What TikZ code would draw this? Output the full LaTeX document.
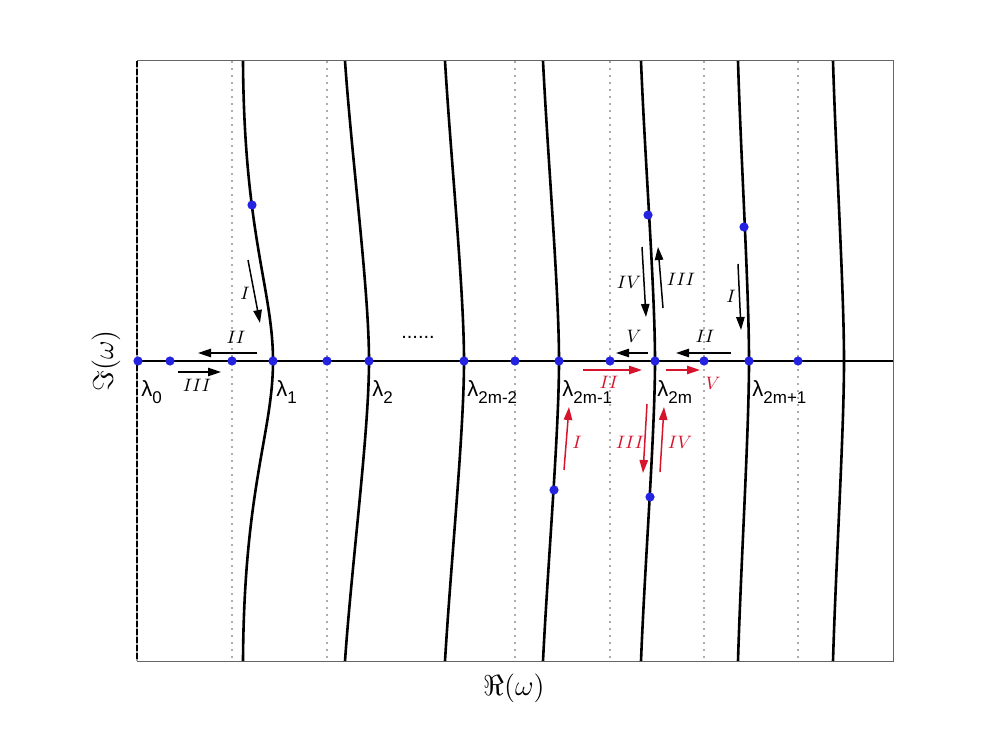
\documentclass[tikz,border=0pt]{standalone}
\usepackage{amsmath}
\usepackage{fontspec}
\newfontfamily\helv{Liberation Sans}
\usetikzlibrary{arrows.meta, positioning}
\definecolor{dotblue}{RGB}{35,35,225}
\definecolor{arred}{RGB}{215,20,45}
\newcommand{\lam}[1]{{\helv\fontsize{11}{13}\selectfont λ\raisebox{-3.5pt}{\fontsize{8.5}{10}\selectfont #1}}}

\begin{document}
\begin{tikzpicture}[x=0.5pt, y=-0.5pt,
    curve/.style={line width=1.3pt},
    dot/.style={circle, fill=dotblue, inner sep=0pt, minimum size=4.6pt},
    guide/.style={gray!65, line width=0.6pt, dash pattern=on 0.8pt off 2.7pt},
    arr/.style={-{Triangle[length=6.5pt,width=4.2pt]}, line width=0.75pt},
    num/.style={font=\fontsize{9}{11}\selectfont, inner sep=0pt},
    lab/.style={anchor=north west, inner sep=0pt}]
    \useasboundingbox (0,0) rectangle (996,749);

    \foreach \x in {232, 327, 515, 610, 704, 798}
        \draw[guide] (\x,61) -- (\x,661);
    \draw[gray!80!black, line width=0.5pt] (137,61) rectangle (893,661);
    \draw[gray!70, line width=1.3pt] (137,61) -- (137,661);
    \draw[line width=1.1pt, dash pattern=on 3pt off 1pt] (137,61) -- (137,661);

    \foreach \xt/\xm/\xc/\yc in {243/273/244/235, 345/369/352/161, 445/464/451/161,
        543/559/548/161, 641/655/645/161, 738/749/741/161, 833/844/836/161}
        \draw[curve] (\xt,61) .. controls (\xc,\yc) and (\xm,290) .. (\xm,361)
            .. controls (\xm,432) and (\xc,{722-\yc}) .. (\xt,661);
    \draw[curve] (137,361) -- (893,361);

    \foreach \x [count=\i] in {138, 170, 232, 273, 327, 369, 464, 515, 559, 610, 655, 704, 749, 798}
        \node[dot] (a\i) at (\x,361) {};
    \node[dot] (b1) at (252,205) {};
    \node[dot] (b2) at (648,215) {};
    \node[dot] (b3) at (744,227) {};
    \node[dot] (c1) at (554,490) {};
    \node[dot] (c2) at (650,497) {};

    \node[lab] (l0) at (141,380) {\lam{0}};
    \node[lab] (l1) at (276,380) {\lam{1}};
    \node[lab] (l2) at (372,380) {\lam{2}};
    \node[lab] (l3) at (467,380) {\lam{2m-2}};
    \node[lab] (l4) at (562,380) {\lam{2m-1}};
    \node[lab] (l5) at (657,380) {\lam{2m}};
    \node[lab] (l6) at (752,380) {\lam{2m+1}};
    \node[font=\helv\fontsize{10}{12}\selectfont, inner sep=0pt] (more) at (418,337) {......};

    \draw[arr] (248,260) -- (260,323);
    \node[num] (t1) at (245,293) {$I$};
    \draw[arr] (257,353) -- (198,353);
    \node[num] (t2) at (236,337) {$II$};
    \draw[arr] (178,372) -- (221,372);
    \node[num] (t3) at (197,385) {$III$};
    \draw[arr] (642,247) -- (646,317);
    \node[num] (t4) at (629,282) {$IV$};
    \draw[arr] (663,308) -- (658,247);
    \node[num] (t5) at (681,279) {$III$};
    \draw[arr] (738,264) -- (741,330);
    \node[num] (t6) at (731,296) {$I$};
    \draw[arr] (648,353) -- (616,353);
    \node[num] (t7) at (634,336) {$V$};
    \draw[arr] (731,353) -- (676,353);
    \node[num] (t8) at (705,336) {$II$};

    \draw[arr, arred] (583,370) -- (642,370);
    \node[num, arred] (r1) at (609,382) {$II$};
    \draw[arr, arred] (666,370) -- (700,370);
    \node[num, arred] (r2) at (713,383) {$V$};
    \draw[arr, arred] (564,470) -- (569,407);
    \node[num, arred] (r3) at (577,442) {$I$};
    \draw[arr, arred] (647,404) -- (643,473);
    \node[num, arred] (r4) at (630,442) {$III$};
    \draw[arr, arred] (660,472) -- (664,407);
    \node[num, arred] (r5) at (680,442) {$IV$};

    \node[font=\fontsize{14}{16}\selectfont] (xlab) at (514,688) {$\Re(\omega)$};
    \node[font=\fontsize{14}{16}\selectfont, rotate=90] (ylab) at (106,361) {$\Im(\omega)$};
\end{tikzpicture}
\end{document}
